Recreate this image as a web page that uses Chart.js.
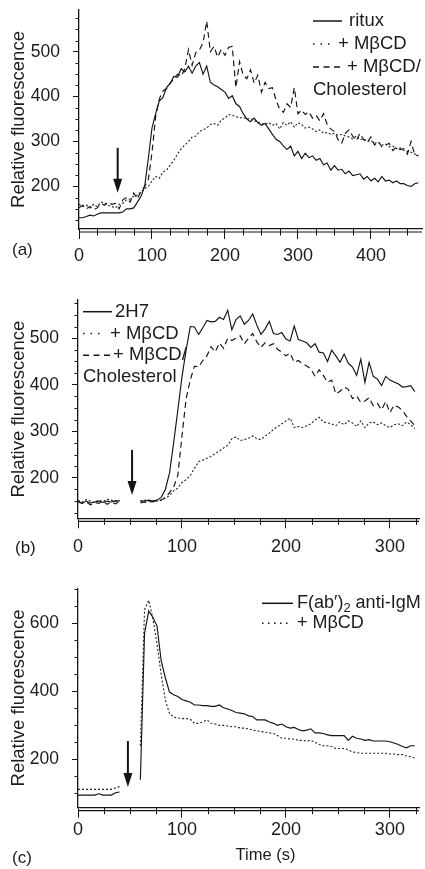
<!DOCTYPE html>
<html>
<head>
<meta charset="utf-8">
<script src="https://cdn.jsdelivr.net/npm/chart.js@4.4.0/dist/chart.umd.min.js"></script>
<style>
  html, body { margin: 0; padding: 0; background: #fff; }
  .panel { position: absolute; left: 0; width: 425px; }
</style>
</head>
<body>
<div class="panel" style="top:0;height:290px"><canvas id="chartA"></canvas></div>
<div class="panel" style="top:290px;height:290px"><canvas id="chartB"></canvas></div>
<div class="panel" style="top:580px;height:289px"><canvas id="chartC"></canvas></div>
<script>
// ---- data ----
// (a) ritux, sampled every 5 s
const timeA = [0,5,10,15,20,25,30,35,40,45,50,55,60,65,70,75,80,85,90,95,
  100,105,110,115,120,125,130,135,140,145,150,155,160,165,170,175,180,185,190,195,
  200,205,210,215,220,225,230,235,240,245,250,255,260,265,270,275,280,285,290,295,
  300,305,310,315,320,325,330,335,340,345,350,355,360,365,370,375,380,385,390,395,
  400,405,410,415,420,425,430,435,440,445,450,455,460,465];
const rituxA = [130,130,133,136,134,138,141,141,141,141,
  141,141,143,150,150,152,165,178,200,262,
  330,362,390,398,420,430,445,443,462,455,
  468,452,468,476,450,468,432,426,422,416,
  410,396,402,384,378,362,350,344,352,342,
  336,340,328,316,305,300,290,282,290,268,
  278,262,274,264,268,258,262,248,252,236,
  246,236,238,228,234,224,226,228,216,222,
  212,218,210,222,212,214,208,212,206,206,
  202,200,206,208];
const mbcdA = [160,155,158,152,160,155,165,163,158,155,
  152,160,162,170,172,178,180,188,195,200,
  212,222,218,232,236,248,258,272,284,292,
  300,310,312,322,326,330,338,340,336,348,
  352,360,358,356,352,354,350,352,346,344,
  340,338,342,336,340,328,342,336,344,332,
  342,338,330,332,328,322,326,318,320,316,
  318,314,316,312,310,306,312,304,306,300,
  302,296,298,292,294,288,290,284,286,280,
  278,276,272,270];
const cholA = [152,158,150,155,148,152,162,158,165,160,
  162,150,170,175,165,185,172,190,200,215,
  275,355,395,412,418,430,440,450,445,462,
  505,470,498,504,520,568,500,512,488,505,
  492,510,512,420,478,448,440,460,430,448,
  410,432,418,420,392,372,365,384,376,420,
  362,370,360,366,352,358,346,362,338,328,
  322,304,296,318,326,312,302,318,304,298,
  310,292,300,288,292,296,280,288,282,284,
  272,300,270,268];

// (b) and (c), sampled every 4 s (null = no recording while stimulus added)
const timeBC = [0,4,8,12,16,20,24,28,32,36,40,44,48,52,56,60,64,68,72,76,
  80,84,88,92,96,100,104,108,112,116,120,124,128,132,136,140,144,148,152,156,
  160,164,168,172,176,180,184,188,192,196,200,204,208,212,216,220,224,228,232,236,
  240,244,248,252,256,260,264,268,272,276,280,284,288,292,296,300,304,308,312,316,
  320,324];
const h7B = [148,145,150,146,148,150,147,150,148,151,
  150,null,null,null,null,150,150,152,150,152,
  158,175,210,275,345,417,475,525,524,508,
  522,538,535,536,545,540,560,518,540,548,
  530,538,552,528,508,520,536,510,508,512,
  498,494,526,497,494,490,480,488,470,468,
  450,474,462,448,466,446,438,420,455,405,
  448,418,412,398,418,410,406,402,395,396,
  398,385];
const mbcdB = [152,148,153,150,147,152,149,154,152,149,
  152,null,null,null,null,150,152,150,148,150,
  152,156,162,172,178,190,196,205,220,235,
  238,242,246,252,258,264,270,284,288,280,
  282,285,290,284,282,290,296,304,310,316,
  322,328,308,310,308,312,316,324,330,320,
  318,316,312,320,314,322,318,310,322,308,
  318,320,314,318,312,308,314,316,312,320,
  314,306];
const cholB = [150,145,148,142,147,145,150,143,148,144,
  150,null,null,null,null,146,148,146,150,150,
  152,158,168,180,205,290,370,410,440,438,
  452,462,482,470,490,478,500,495,500,505,
  488,500,510,492,480,490,484,488,476,470,
  462,468,448,452,445,440,434,418,432,420,
  405,410,380,386,395,390,370,376,362,365,
  372,355,360,346,364,340,356,352,345,332,
  322,312];
const igmC = [95,95,95,95,95,99,95,95,95,102,
  104,null,null,null,null,140,570,636,618,592,
  490,440,398,390,385,376,372,368,360,360,
  358,358,356,356,360,352,348,344,338,336,
  334,328,326,316,316,316,310,306,300,304,
  296,292,294,288,284,286,290,278,278,276,
  272,270,270,270,270,256,268,262,260,256,
  258,254,254,254,254,252,248,244,238,234,
  240,240];
const mbcdC = [112,112,112,112,112,112,112,112,112,116,
  120,null,null,null,null,240,640,668,615,540,
  450,375,335,324,322,320,320,318,306,306,
  310,316,306,304,300,300,298,296,296,292,
  292,290,286,284,282,280,278,276,270,262,
  262,260,260,256,256,254,256,250,244,240,
  240,238,232,232,232,228,222,220,218,218,
  218,218,218,218,218,216,216,214,214,210,
  208,204];

// legend labels (second line of an entry given as array)
const labelsA = ['ritux', '+ MβCD', ['+ MβCD/', 'Cholesterol']];
const labelsB = ['2H7', '+ MβCD', ['+ MβCD/', 'Cholesterol']];
const labelsC = ['F(ab′)₂ anti-IgM', '+ MβCD'];
// arrow: [time, top value, tip value]
const arrowA = [53, 286, 186];
const arrowB = [52, 260, 163];
const arrowC = [48, 254, 119];

const FONT = "'Liberation Sans', Arial, Helvetica, sans-serif";
const NARROW = "'Liberation Sans Narrow', 'Arial Narrow', 'Liberation Sans', sans-serif";
const INK = '#141414';
const TXT = '#1c1c1c';
const STYLE = {
  solid:  { borderColor: INK, borderWidth: 1.15, borderDash: [] },
  dotted: { borderColor: '#222', borderWidth: 1.1, borderDash: [2, 2] },
  dashed: { borderColor: INK, borderWidth: 1.15, borderDash: [6, 4] }
};

function pts(t, v) { return t.map((x, i) => ({ x: x, y: v[i] })); }

function drawLabel(ctx, text, x, y, size) {
  // handles a subscript "₂"
  const parts = text.split('₂');
  let cx = x;
  parts.forEach((s, i) => {
    ctx.font = size + 'px ' + FONT;
    ctx.fillText(s, cx, y);
    cx += ctx.measureText(s).width;
    if (i < parts.length - 1) {
      ctx.font = Math.round(size * 0.7) + 'px ' + FONT;
      ctx.fillText('2', cx, y + 5);
      cx += ctx.measureText('2').width;
    }
  });
}

const extras = {
  id: 'extras',
  afterDraw(chart) {
    const p = chart.options.plugins.extras;
    const { ctx, chartArea: a, scales: { x, y } } = chart;
    ctx.save();
    ctx.strokeStyle = INK;
    ctx.fillStyle = INK;
    // second rule under the x axis
    ctx.lineWidth = 1.2;
    ctx.beginPath();
    ctx.moveTo(a.left, a.bottom + 3);
    ctx.lineTo(a.right, a.bottom + 3);
    ctx.stroke();
    // minor ticks
    ctx.lineWidth = 1;
    for (let v = 0; v <= x.max; v += 25) {
      if (v % 100 === 0) continue;
      const px = Math.round(x.getPixelForValue(v)) + 0.5;
      ctx.beginPath(); ctx.moveTo(px, a.bottom); ctx.lineTo(px, a.bottom + 6.5); ctx.stroke();
    }
    for (let v = Math.ceil(y.min / p.minorY) * p.minorY; v <= y.max; v += p.minorY) {
      if (v % p.majorY === 0) continue;
      const py = Math.round(y.getPixelForValue(v)) + 0.5;
      ctx.beginPath(); ctx.moveTo(a.left, py); ctx.lineTo(a.left - 3.5, py); ctx.stroke();
    }
    // arrow marking addition of antibody
    const ax = x.getPixelForValue(p.arrow[0]);
    const y0 = y.getPixelForValue(p.arrow[1]);
    const y1 = y.getPixelForValue(p.arrow[2]);
    ctx.lineWidth = 2;
    ctx.beginPath(); ctx.moveTo(ax, y0); ctx.lineTo(ax, y1 - 12); ctx.stroke();
    ctx.beginPath();
    ctx.moveTo(ax - 4.5, y1 - 14); ctx.lineTo(ax + 4.5, y1 - 14); ctx.lineTo(ax, y1);
    ctx.closePath(); ctx.fill();
    // legend
    const L = p.legend;
    ctx.textBaseline = 'middle';
    ctx.textAlign = 'left';
    let row = 0;
    chart.data.datasets.forEach((ds, i) => {
      const ly = L.y + row * L.gap;
      ctx.strokeStyle = INK;
      ctx.setLineDash(L.dash[i]);
      ctx.lineWidth = 1.5;
      ctx.beginPath(); ctx.moveTo(L.x, ly); ctx.lineTo(L.x + L.w[i], ly); ctx.stroke();
      ctx.setLineDash([]);
      const lines = Array.isArray(ds.label) ? ds.label : [ds.label];
      ctx.fillStyle = TXT;
      drawLabel(ctx, lines[0], L.tx[i], ly, L.size);
      row++;
      for (let k = 1; k < lines.length; k++) {
        drawLabel(ctx, lines[k], L.x, L.y + row * L.gap, L.size);
        row++;
      }
    });
    // panel tag and optional x title
    ctx.fillStyle = TXT;
    ctx.font = '17px ' + FONT;
    ctx.fillText(p.tag[0], p.tag[1], p.tag[2]);
    if (p.xTitle) {
      ctx.textAlign = 'center';
      ctx.font = '16.5px ' + FONT;
      ctx.fillText(p.xTitle[0], p.xTitle[1], p.xTitle[2]);
    }
    ctx.restore();
  }
};

function makePanel(id, cfg) {
  const datasets = cfg.series.map(s => Object.assign({
    label: s.label, data: pts(cfg.time, s.values),
    pointRadius: 0, tension: 0, spanGaps: false, fill: false
  }, STYLE[s.style]));
  return new Chart(document.getElementById(id), {
    type: 'line',
    data: { datasets },
    plugins: [extras],
    options: {
      responsive: true, maintainAspectRatio: false, animation: false,
      layout: { padding: { top: cfg.top, right: cfg.right, bottom: 0, left: 0 } },
      plugins: {
        legend: { display: false }, tooltip: { enabled: false },
        extras: cfg.extras
      },
      scales: {
        x: {
          type: 'linear', min: 0, max: cfg.xMax,
          border: { color: INK, width: 1.3 },
          grid: { drawOnChartArea: false, tickLength: 10, color: INK },
          ticks: { stepSize: 100, includeBounds: false, maxRotation: 0, padding: cfg.xPad,
                   color: TXT, font: { family: FONT, size: 18 } },
          afterFit: s => { s.height = cfg.xHeight; s.paddingLeft = 0; s.paddingRight = 0; }
        },
        y: {
          min: cfg.yMin, max: cfg.yMax,
          border: { color: INK, width: 1.3 },
          grid: { drawOnChartArea: false, tickLength: 6, color: INK },
          ticks: { stepSize: cfg.extras.majorY, includeBounds: false, padding: 13,
                   color: TXT, font: { family: NARROW, size: 17.5 } },
          title: { display: true, text: 'Relative fluorescence', color: TXT,
                   font: { family: FONT, size: 18.5 }, padding: { top: 8, bottom: 0 } },
          afterFit: s => { s.width = cfg.left; s.paddingTop = 0; s.paddingBottom = 0; }
        }
      }
    }
  });
}

makePanel('chartA', {
  time: timeA, xMax: 470, yMin: 105, yMax: 593,
  top: 10, right: 3, left: 79, xHeight: 61, xPad: 6.5,
  series: [
    { label: labelsA[0], values: rituxA, style: 'solid' },
    { label: labelsA[1], values: mbcdA, style: 'dotted' },
    { label: labelsA[2], values: cholA, style: 'dashed' }
  ],
  extras: { minorY: 25, majorY: 100, arrow: arrowA, tag: ['(a)', 12, 250],
            legend: { x: 313, y: 21, gap: 23, size: 18.5,
                      w: [29, 17, 30], tx: [349, 338, 347],
                      dash: [[], [1.5, 6], [6, 4.5]] } }
});

makePanel('chartB', {
  time: timeBC, xMax: 328, yMin: 113, yMax: 582,
  top: 10, right: 6, left: 78, xHeight: 61.7, xPad: 7.5,
  series: [
    { label: labelsB[0], values: h7B, style: 'solid' },
    { label: labelsB[1], values: mbcdB, style: 'dotted' },
    { label: labelsB[2], values: cholB, style: 'dashed' }
  ],
  extras: { minorY: 25, majorY: 100, arrow: arrowB, tag: ['(b)', 15, 258],
            legend: { x: 83, y: 21.7, gap: 21.8, size: 18.5,
                      w: [29, 22, 27], tx: [115, 110, 113],
                      dash: [[], [1.5, 6], [6, 4.5]] } }
});

makePanel('chartC', {
  time: timeBC, xMax: 328, yMin: 58, yMax: 703,
  top: 8.3, right: 6, left: 78, xHeight: 61.3, xPad: 1.5,
  series: [
    { label: labelsC[0], values: igmC, style: 'solid' },
    { label: labelsC[1], values: mbcdC, style: 'dotted' }
  ],
  extras: { minorY: 50, majorY: 200, arrow: arrowC, tag: ['(c)', 12, 278],
            xTitle: ['Time (s)', 265.5, 275],
            legend: { x: 262, y: 23.3, gap: 20, size: 18,
                      w: [31, 28], tx: [297, 297],
                      dash: [[], [1.5, 4.5]] } }
});
</script>
</body>
</html>
